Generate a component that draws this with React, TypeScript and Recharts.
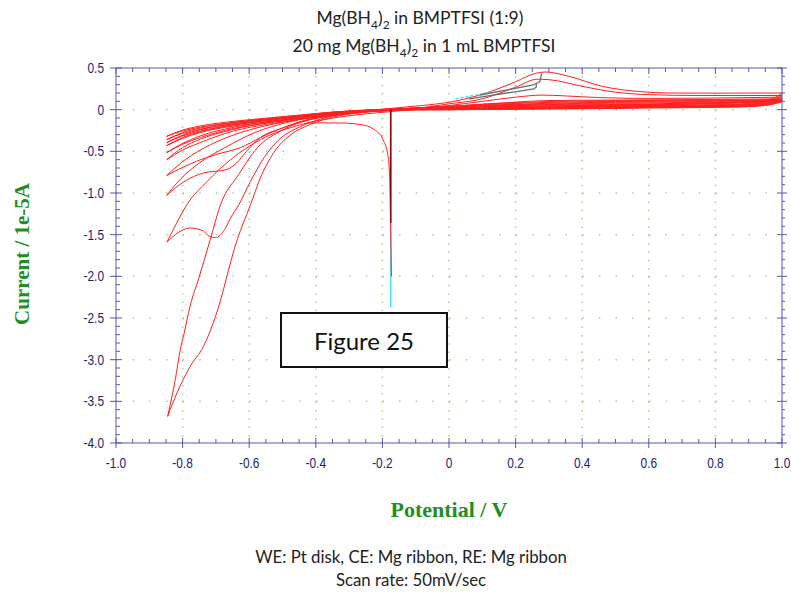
import { LineChart, Line, XAxis, YAxis, CartesianGrid } from "recharts";

// colours
const AXIS_COLOR = "#5656b4";
const LABEL_COLOR = "#1c1c74";
const GRID_COLOR = "#a8cf88";
const TRACE_COLOR = "#ff1f1f";
const TITLE_GREEN = "#1f8f1f";

// axis ticks and labels
const xMajor = [-1, -0.8, -0.6, -0.4, -0.2, 0, 0.2, 0.4, 0.6, 0.8, 1];
const xMajorLabels = ["-1.0", "-0.8", "-0.6", "-0.4", "-0.2", "0", "0.2", "0.4", "0.6", "0.8", "1.0"];
const yMajor = [0.5, 0, -0.5, -1, -1.5, -2, -2.5, -3, -3.5, -4];
const yMajorLabels = ["0.5", "0", "-0.5", "-1.0", "-1.5", "-2.0", "-2.5", "-3.0", "-3.5", "-4.0"];
const xGridValues = [-0.8, -0.6, -0.4, -0.2, 0, 0.2, 0.4, 0.6, 0.8];
const yGridValues = [0, -0.5, -1, -1.5, -2, -2.5, -3, -3.5];

// minor ticks: every 0.05 V on x, every 0.1 on y
const xTicks = Array.from({ length: 41 }, (_, i) => Math.round((-1 + i * 0.05) * 100) / 100);
const yTicks = Array.from({ length: 46 }, (_, i) => Math.round((0.5 - i * 0.1) * 10) / 10);

// CV cycles, potential (V) vs current (1e-5 A); each cycle split into the
// cathodic sweep (1.0 V -> -0.85 V) and the anodic return (-0.85 V -> 1.0 V)
const cycle1Cathodic = [
  [1.0, 0.2], [0.97, 0.13], [0.9, 0.09], [0.7, 0.065], [0.5, 0.055], [0.3, 0.045], [0.1, 0.03],
  [-0.1, 0.01], [-0.2, 0.0], [-0.32, -0.05], [-0.44, -0.145], [-0.51, -0.265], [-0.575, -0.455],
  [-0.632, -0.78], [-0.686, -1.14], [-0.717, -1.56], [-0.752, -2.03], [-0.777, -2.35],
  [-0.797, -2.71], [-0.807, -2.88], [-0.822, -3.24], [-0.845, -3.68],
];
const cycle1Anodic = [
  [-0.845, -3.68], [-0.817, -3.4], [-0.777, -3.08], [-0.737, -2.84], [-0.701, -2.48],
  [-0.636, -1.56], [-0.596, -1.14], [-0.566, -0.815], [-0.52, -0.48], [-0.475, -0.3],
  [-0.415, -0.175], [-0.35, -0.09], [-0.264, -0.035], [-0.173, 0.015], [-0.08, 0.05],
  [0.008, 0.095], [0.108, 0.195], [0.2, 0.335], [0.259, 0.435], [0.289, 0.452], [0.36, 0.4],
  [0.46, 0.28], [0.58, 0.215], [0.66, 0.2], [0.8, 0.198], [1.0, 0.2],
];
const cycle2Cathodic = [
  [1.0, 0.17], [0.96, 0.11], [0.85, 0.08], [0.6, 0.06], [0.4, 0.05], [0.2, 0.04], [0, 0.02],
  [-0.143, 0.0], [-0.264, -0.025], [-0.375, -0.1], [-0.455, -0.22], [-0.505, -0.34],
  [-0.556, -0.58], [-0.596, -0.86], [-0.631, -1.14], [-0.656, -1.3], [-0.674, -1.44],
  [-0.701, -1.535], [-0.72, -1.52], [-0.738, -1.455], [-0.777, -1.42], [-0.813, -1.475],
  [-0.847, -1.59],
];
const cycle2Anodic = [
  [-0.847, -1.59], [-0.819, -1.37], [-0.787, -1.14], [-0.726, -0.86], [-0.656, -0.6],
  [-0.566, -0.36], [-0.445, -0.18], [-0.294, -0.07], [-0.143, -0.01], [0, 0.07], [0.1, 0.13],
  [0.2, 0.27], [0.265, 0.365], [0.3, 0.36], [0.4, 0.28], [0.5, 0.21], [0.6, 0.18], [0.75, 0.17],
  [1.0, 0.17],
];
const cycle3Cathodic = [
  [1.0, 0.15], [0.95, 0.09], [0.8, 0.06], [0.6, 0.05], [0.4, 0.04], [0.2, 0.03], [0, 0.015],
  [-0.143, -0.005], [-0.324, -0.055], [-0.445, -0.14], [-0.5, -0.22], [-0.568, -0.34],
  [-0.608, -0.5], [-0.638, -0.64], [-0.668, -0.72], [-0.738, -0.76], [-0.798, -0.87],
  [-0.848, -1.03],
];
const cycle3Anodic = [
  [-0.848, -1.03], [-0.808, -0.84], [-0.748, -0.635], [-0.673, -0.455], [-0.583, -0.275],
  [-0.477, -0.145], [-0.327, -0.048], [-0.147, 0.0], [0, 0.05], [0.1, 0.1], [0.2, 0.15],
  [0.28, 0.175], [0.35, 0.165], [0.45, 0.145], [0.6, 0.135], [0.8, 0.14], [1.0, 0.15],
];
const cycle4Cathodic = [
  [1.0, 0.13], [0.95, 0.08], [0.8, 0.055], [0.6, 0.045], [0.4, 0.035], [0.2, 0.025], [0, 0.01],
  [-0.143, -0.005], [-0.385, -0.095], [-0.49, -0.205], [-0.566, -0.335], [-0.626, -0.455],
  [-0.701, -0.54], [-0.777, -0.65], [-0.848, -0.79],
];
const cycle4Anodic = [
  [-0.848, -0.79], [-0.792, -0.6], [-0.716, -0.42], [-0.626, -0.275], [-0.505, -0.155],
  [-0.354, -0.06], [-0.143, 0.0], [0, 0.04], [0.2, 0.09], [0.3, 0.11], [0.5, 0.115],
  [0.7, 0.12], [1.0, 0.13],
];
const cycle5Cathodic = [
  [1.0, 0.12], [0.95, 0.075], [0.85, 0.055], [0.6, 0.045], [0.4, 0.035], [0.2, 0.025], [0, 0.01],
  [-0.2, -0.005], [-0.345, -0.055], [-0.445, -0.115], [-0.545, -0.175], [-0.646, -0.255],
  [-0.747, -0.395], [-0.8, -0.485], [-0.848, -0.6],
];
const cycle5Anodic = [
  [-0.848, -0.6], [-0.8, -0.455], [-0.747, -0.355], [-0.646, -0.235], [-0.545, -0.155],
  [-0.445, -0.1], [-0.345, -0.05], [-0.2, 0.0], [0, 0.04], [0.2, 0.085], [0.4, 0.105],
  [0.6, 0.11], [0.8, 0.115], [1.0, 0.12],
];
const cycle6Cathodic = [
  [1.0, 0.115], [0.95, 0.07], [0.85, 0.05], [0.6, 0.04], [0.4, 0.03], [0.2, 0.02], [0, 0.007],
  [-0.2, -0.005], [-0.345, -0.05], [-0.445, -0.105], [-0.545, -0.16], [-0.646, -0.225],
  [-0.747, -0.335], [-0.8, -0.415], [-0.848, -0.516],
];
const cycle6Anodic = [
  [-0.848, -0.516], [-0.8, -0.405], [-0.747, -0.315], [-0.646, -0.21], [-0.545, -0.145],
  [-0.445, -0.09], [-0.345, -0.045], [-0.2, 0.0], [0, 0.035], [0.2, 0.075], [0.4, 0.095],
  [0.6, 0.1], [0.8, 0.108], [1.0, 0.115],
];
const cycle7Cathodic = [
  [1.0, 0.11], [0.95, 0.065], [0.85, 0.045], [0.6, 0.035], [0.4, 0.025], [0.2, 0.015],
  [0, 0.005], [-0.2, -0.003], [-0.345, -0.045], [-0.445, -0.095], [-0.545, -0.145],
  [-0.646, -0.195], [-0.747, -0.275], [-0.8, -0.345], [-0.848, -0.432],
];
const cycle7Anodic = [
  [-0.848, -0.432], [-0.8, -0.335], [-0.747, -0.265], [-0.646, -0.185], [-0.545, -0.13],
  [-0.445, -0.08], [-0.345, -0.04], [-0.2, 0.002], [0, 0.033], [0.2, 0.065], [0.4, 0.085],
  [0.6, 0.09], [0.8, 0.1], [1.0, 0.11],
];
const cycle8Cathodic = [
  [1.0, 0.105], [0.95, 0.06], [0.85, 0.04], [0.6, 0.03], [0.4, 0.02], [0.2, 0.01], [0, 0.003],
  [-0.2, -0.003], [-0.345, -0.04], [-0.445, -0.085], [-0.545, -0.13], [-0.646, -0.18],
  [-0.747, -0.255], [-0.8, -0.315], [-0.848, -0.396],
];
const cycle8Anodic = [
  [-0.848, -0.396], [-0.8, -0.305], [-0.747, -0.24], [-0.646, -0.17], [-0.545, -0.12],
  [-0.445, -0.075], [-0.345, -0.035], [-0.2, 0.003], [0, 0.03], [0.2, 0.06], [0.4, 0.075],
  [0.6, 0.08], [0.8, 0.092], [1.0, 0.105],
];
const cycle9Cathodic = [
  [1.0, 0.1], [0.95, 0.055], [0.85, 0.035], [0.6, 0.025], [0.4, 0.015], [0.2, 0.008], [0, 0.0],
  [-0.2, -0.004], [-0.345, -0.035], [-0.445, -0.075], [-0.545, -0.12], [-0.646, -0.165],
  [-0.747, -0.235], [-0.8, -0.285], [-0.848, -0.36],
];
const cycle9Anodic = [
  [-0.848, -0.36], [-0.8, -0.275], [-0.747, -0.22], [-0.646, -0.155], [-0.545, -0.11],
  [-0.445, -0.07], [-0.345, -0.03], [-0.2, 0.004], [0, 0.027], [0.2, 0.055], [0.4, 0.065],
  [0.6, 0.07], [0.8, 0.085], [1.0, 0.1],
];
const cycle10Cathodic = [
  [1.0, 0.095], [0.95, 0.05], [0.85, 0.03], [0.6, 0.02], [0.4, 0.01], [0.2, 0.005], [0, -0.002],
  [-0.2, -0.004], [-0.345, -0.03], [-0.445, -0.07], [-0.545, -0.11], [-0.646, -0.15],
  [-0.747, -0.21], [-0.8, -0.255], [-0.848, -0.32],
];
const cycle10Anodic = [
  [-0.848, -0.32], [-0.8, -0.245], [-0.747, -0.195], [-0.646, -0.14], [-0.545, -0.1],
  [-0.445, -0.063], [-0.345, -0.027], [-0.2, 0.005], [0, 0.025], [0.2, 0.05], [0.4, 0.058],
  [0.6, 0.062], [0.8, 0.078], [1.0, 0.095],
];

// first sweep starting at open circuit, and the marker traces
const initialSweep = [
  [-0.173, -2.0], [-0.175, -1.44], [-0.178, -0.84], [-0.183, -0.56], [-0.198, -0.36],
  [-0.224, -0.24], [-0.264, -0.18], [-0.324, -0.16], [-0.425, -0.158],
];
const cyanDrop = [[-0.175, 0.0], [-0.175, -2.37]];
const darkDrop = [[-0.175, 0.0], [-0.175, -1.36]];
const cyanFlat = [[-0.175, 0.01], [0.065, 0.01]];
const cyanDash = [[0.02, 0.13], [0.14, 0.22]];
const grayUpper = [[0.093, 0.176], [0.253, 0.296], [0.273, 0.336], [0.278, 0.436]];
const grayLower = [[0.06, 0.13], [0.255, 0.25], [0.262, 0.27], [0.262, 0.31]];

const redBranches = [
  cycle10Cathodic, cycle10Anodic, cycle9Cathodic, cycle9Anodic, cycle8Cathodic, cycle8Anodic,
  cycle7Cathodic, cycle7Anodic, cycle6Cathodic, cycle6Anodic, cycle5Cathodic, cycle5Anodic,
  cycle4Cathodic, cycle4Anodic, cycle3Cathodic, cycle3Anodic, cycle2Cathodic, cycle2Anodic,
  cycle1Cathodic, cycle1Anodic,
];

const toPts = (arr: number[][]) => arr.map(([x, y]) => ({ x, y }));
const majorIndex = (majors: number[], v: number) => majors.findIndex((m) => Math.abs(m - v) < 1e-6);

// the original uses a condensed sans, squeeze Liberation Sans horizontally
const tickFont = { fontFamily: "'Liberation Sans', Arial, sans-serif", fontSize: 14.5 };

const BottomTick = (props: any) => {
  const { x, y, payload } = props;
  const i = majorIndex(xMajor, payload.value);
  const major = i >= 0;
  return (
    <g>
      <line x1={x} x2={x} y1={major ? y - 5 : y - 4} y2={major ? y + 5 : y} stroke={AXIS_COLOR} />
      {major && (
        <text
          transform={`translate(${x} ${y + 25}) scale(0.82 1)`}
          textAnchor="middle"
          fill={LABEL_COLOR}
          {...tickFont}
        >
          {xMajorLabels[i]}
        </text>
      )}
    </g>
  );
};

const TopTick = (props: any) => {
  const { x, y, payload } = props;
  const major = majorIndex(xMajor, payload.value) >= 0;
  return <line x1={x} x2={x} y1={y} y2={major ? y + 6 : y + 4} stroke={AXIS_COLOR} />;
};

const LeftTick = (props: any) => {
  const { x, y, payload } = props;
  const i = majorIndex(yMajor, payload.value);
  const major = i >= 0;
  return (
    <g>
      <line x1={major ? x - 6 : x} x2={major ? x + 6 : x + 4} y1={y} y2={y} stroke={AXIS_COLOR} />
      {major && (
        <text
          transform={`translate(${x - 12} ${y + 5}) scale(0.82 1)`}
          textAnchor="end"
          fill={LABEL_COLOR}
          {...tickFont}
        >
          {yMajorLabels[i]}
        </text>
      )}
    </g>
  );
};

const RightTick = (props: any) => {
  const { x, y, payload } = props;
  const major = majorIndex(yMajor, payload.value) >= 0;
  return <line x1={major ? x - 5 : x} x2={major ? x + 5 : x + 3} y1={y} y2={y} stroke={AXIS_COLOR} />;
};

const textFont = "Lato, 'Open Sans', sans-serif";
const subStyle = { fontSize: 12, lineHeight: 0 };

export default function App() {
  return (
    <div style={{ position: "absolute", left: 0, top: 0, width: 791, height: 592, background: "#fff", overflow: "hidden" }}>
      <LineChart
        width={791}
        height={592}
        margin={{ top: 60, right: 0, bottom: 119, left: 56 }}
        style={{ position: "absolute", left: 0, top: 0 }}
      >
        <CartesianGrid
          vertical={false}
          horizontalValues={yGridValues}
          stroke={GRID_COLOR}
          strokeWidth={1.5}
          strokeDasharray="1.5 15.15"
        />
        <CartesianGrid
          horizontal={false}
          verticalValues={xGridValues}
          stroke={GRID_COLOR}
          strokeWidth={1.5}
          strokeDasharray="1.5 6.84"
        />
        <XAxis
          dataKey="x"
          type="number"
          domain={[-1, 1]}
          allowDataOverflow
          ticks={xTicks}
          interval={0}
          tickSize={0}
          tickMargin={0}
          height={30}
          tick={BottomTick}
          axisLine={{ stroke: AXIS_COLOR }}
        />
        <XAxis
          xAxisId="top"
          orientation="top"
          dataKey="x"
          type="number"
          domain={[-1, 1]}
          allowDataOverflow
          ticks={xTicks}
          interval={0}
          tickSize={0}
          tickMargin={0}
          height={8}
          tick={TopTick}
          axisLine={{ stroke: AXIS_COLOR }}
        />
        <YAxis
          type="number"
          domain={[-4, 0.5]}
          allowDataOverflow
          ticks={yTicks}
          interval={0}
          tickSize={0}
          tickMargin={0}
          width={60}
          tick={LeftTick}
          axisLine={{ stroke: AXIS_COLOR }}
        />
        <YAxis
          yAxisId="right"
          orientation="right"
          type="number"
          domain={[-4, 0.5]}
          allowDataOverflow
          ticks={yTicks}
          interval={0}
          tickSize={0}
          tickMargin={0}
          width={9}
          tick={RightTick}
          axisLine={{ stroke: AXIS_COLOR }}
        />
        <Line data={toPts(cyanDrop)} dataKey="y" type="linear" stroke="#3fe6f2" strokeWidth={1.5} dot={false} isAnimationActive={false} />
        <Line data={toPts(cyanFlat)} dataKey="y" type="linear" stroke="#3fe6f2" strokeWidth={1.5} dot={false} isAnimationActive={false} />
        {redBranches.map((b, i) => (
          <Line
            key={i}
            data={toPts(b)}
            dataKey="y"
            type="monotone"
            stroke={TRACE_COLOR}
            strokeWidth={1}
            dot={false}
            isAnimationActive={false}
          />
        ))}
        <Line data={toPts(initialSweep)} dataKey="y" type="monotone" stroke={TRACE_COLOR} strokeWidth={1} dot={false} isAnimationActive={false} />
        <Line data={toPts(darkDrop)} dataKey="y" type="linear" stroke="#8a0a0a" strokeWidth={1.6} dot={false} isAnimationActive={false} />
        <Line data={toPts(cyanDash)} dataKey="y" type="linear" stroke="#3fe6f2" strokeWidth={1.5} strokeDasharray="3 2" dot={false} isAnimationActive={false} />
        <Line data={toPts(grayUpper)} dataKey="y" type="linear" stroke="#6e6e6e" strokeWidth={1.3} dot={false} isAnimationActive={false} />
        <Line data={toPts(grayLower)} dataKey="y" type="linear" stroke="#6e6e6e" strokeWidth={1.3} dot={false} isAnimationActive={false} />
      </LineChart>

      {/* titles */}
      <div style={{ position: "absolute", left: 220, top: 7, width: 400, textAlign: "center", fontFamily: textFont, fontSize: 17.5, lineHeight: "22px", color: "#222" }}>
        Mg(BH<sub style={subStyle}>4</sub>)<sub style={subStyle}>2</sub> in BMPTFSI (1:9)
      </div>
      <div style={{ position: "absolute", left: 224, top: 35, width: 400, textAlign: "center", fontFamily: textFont, fontSize: 17.5, lineHeight: "22px", color: "#222" }}>
        20 mg Mg(BH<sub style={subStyle}>4</sub>)<sub style={subStyle}>2</sub> in 1 mL BMPTFSI
      </div>

      {/* axis titles */}
      <svg width={791} height={592} style={{ position: "absolute", left: 0, top: 0, pointerEvents: "none" }}>
        <text
          x={22}
          y={254}
          transform="rotate(-90 22 254)"
          textAnchor="middle"
          dominantBaseline="central"
          fill={TITLE_GREEN}
          fontFamily="'Liberation Serif', 'DejaVu Serif', serif"
          fontWeight="bold"
          fontSize={21}
        >
          Current / 1e-5A
        </text>
        <text
          x={449}
          y={509}
          textAnchor="middle"
          dominantBaseline="central"
          fill={TITLE_GREEN}
          fontFamily="'Liberation Serif', 'DejaVu Serif', serif"
          fontWeight="bold"
          fontSize={22}
        >
          Potential / V
        </text>
      </svg>

      {/* figure tag */}
      <div
        style={{
          position: "absolute",
          left: 280,
          top: 312,
          width: 164,
          height: 52,
          border: "2px solid #111",
          background: "#fff",
          display: "flex",
          alignItems: "center",
          justifyContent: "center",
          fontFamily: textFont,
          fontSize: 24,
          color: "#111",
        }}
      >
        Figure 25
      </div>

      {/* electrode notes */}
      <div style={{ position: "absolute", left: 211, top: 546, width: 400, textAlign: "center", fontFamily: textFont, fontSize: 16.8, lineHeight: "22px", color: "#222" }}>
        WE: Pt disk, CE: Mg ribbon, RE: Mg ribbon
      </div>
      <div style={{ position: "absolute", left: 211, top: 569, width: 400, textAlign: "center", fontFamily: textFont, fontSize: 16.8, lineHeight: "22px", color: "#222" }}>
        Scan rate: 50mV/sec
      </div>
    </div>
  );
}
